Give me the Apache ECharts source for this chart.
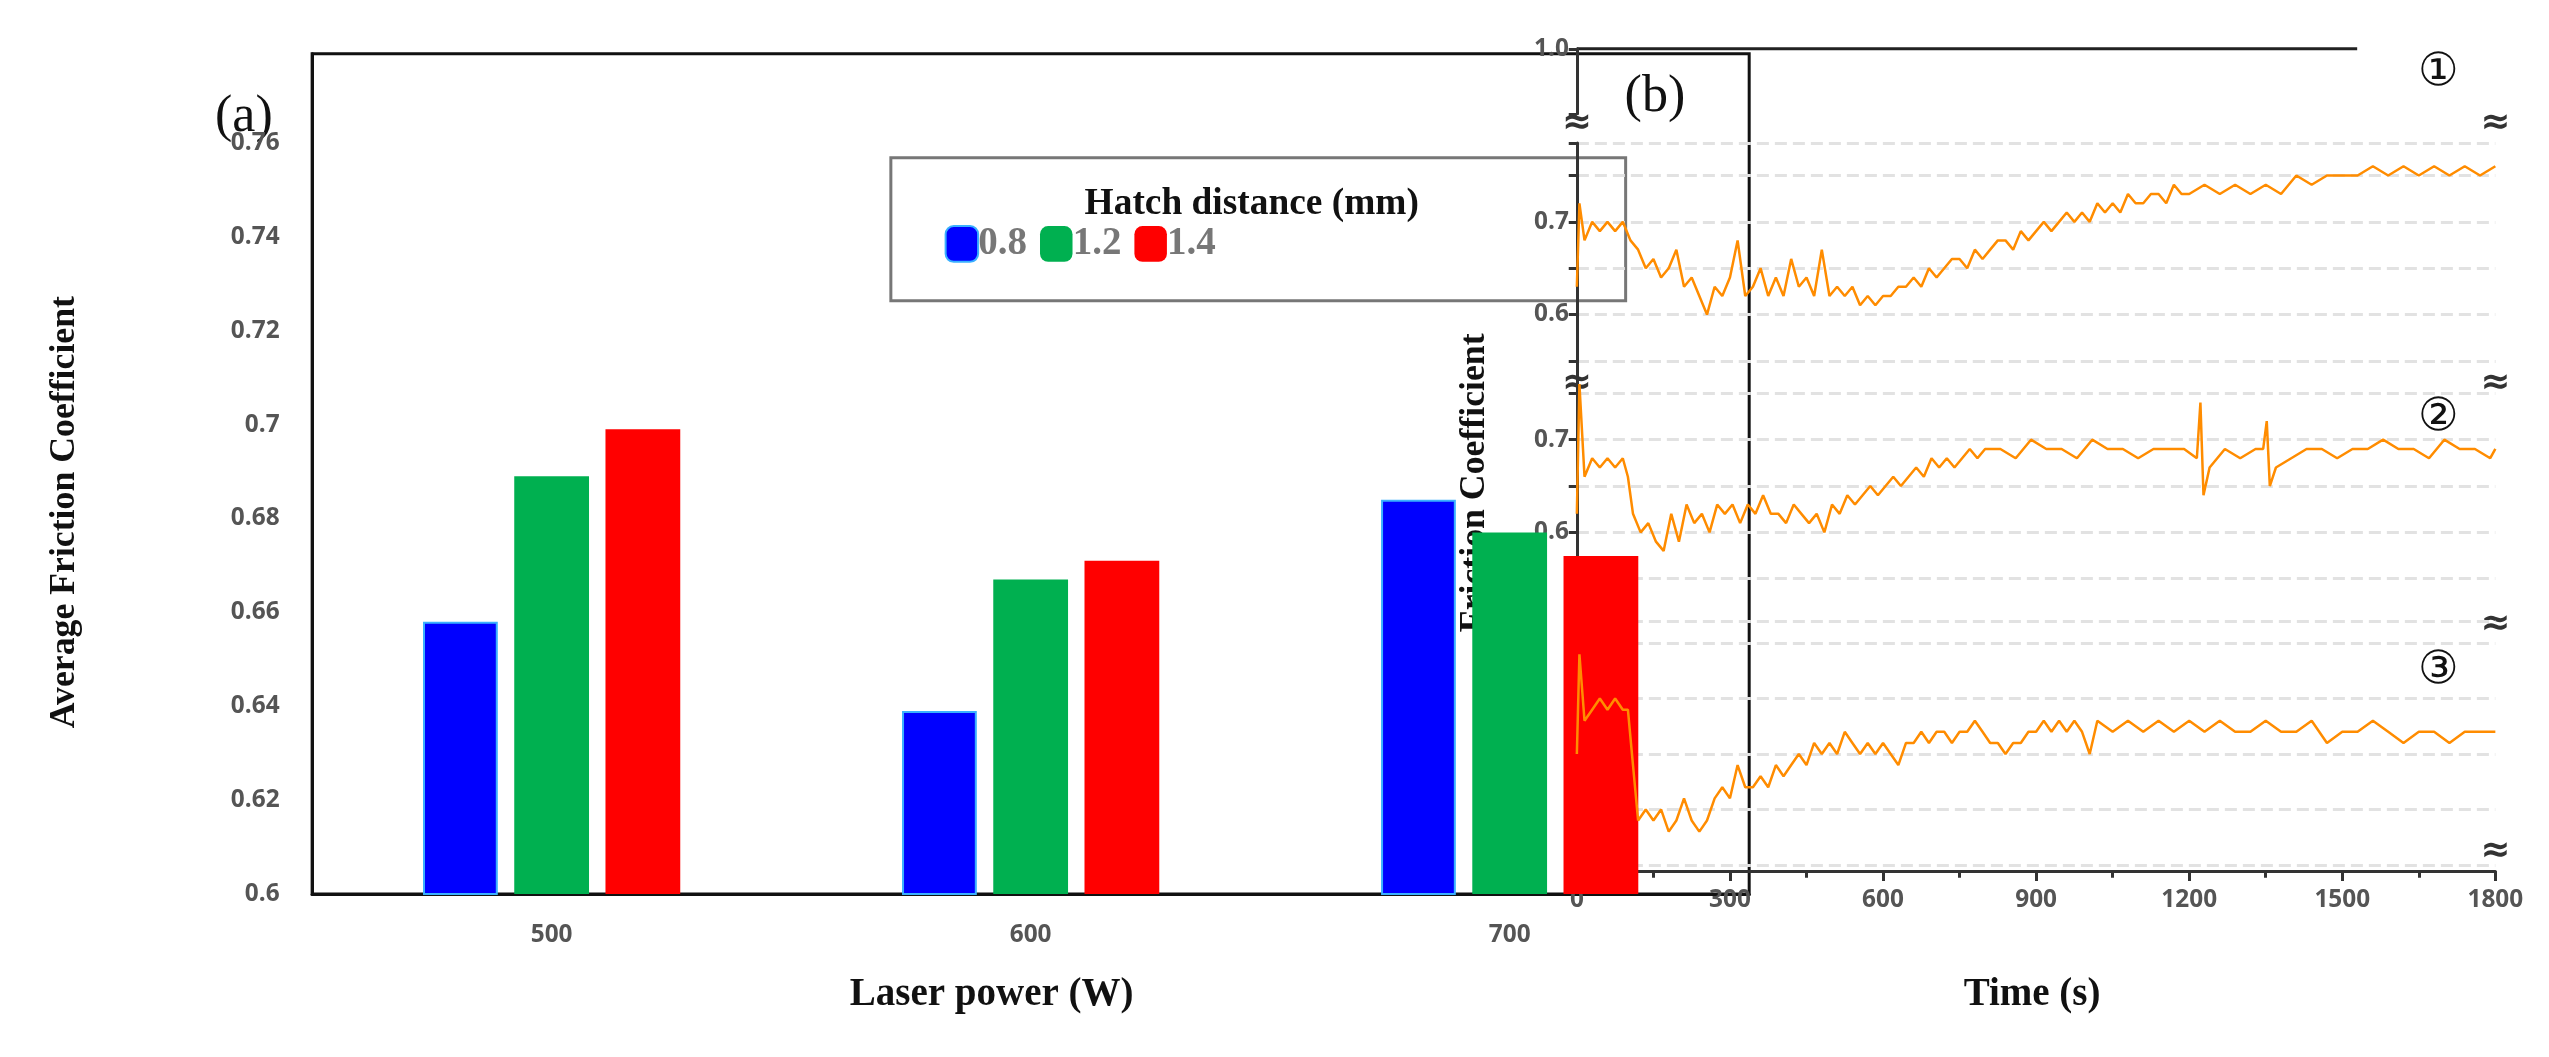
<!DOCTYPE html><html><head><meta charset="utf-8"><script src="https://cdn.jsdelivr.net/npm/echarts@6/dist/echarts.min.js"></script>
<style>html,body{margin:0;background:#fff}#c{width:2549px;height:1057px}</style></head><body><div id="c"></div><script>
const powers=['500','600','700'];
const hatch08=[0.658,0.639,0.684];
const hatch12=[0.689,0.667,0.677];
const hatch14=[0.699,0.671,0.672];
const curve1=[[0,0.63],[5,0.72],[15,0.68],[30,0.70],[45,0.69],[60,0.70],[75,0.69],[90,0.70],[105,0.68],[120,0.67],[135,0.65],[150,0.66],[165,0.64],[180,0.65],[195,0.67],[210,0.63],[225,0.64],[240,0.62],[255,0.60],[270,0.63],[285,0.62],[300,0.64],[315,0.68],[330,0.62],[345,0.63],[360,0.65],[375,0.62],[390,0.64],[405,0.62],[420,0.66],[435,0.63],[450,0.64],[465,0.62],[480,0.67],[495,0.62],[510,0.63],[525,0.62],[540,0.63],[555,0.61],[570,0.62],[585,0.61],[600,0.62],[615,0.62],[630,0.63],[645,0.63],[660,0.64],[675,0.63],[690,0.65],[705,0.64],[720,0.65],[735,0.66],[750,0.66],[765,0.65],[780,0.67],[795,0.66],[810,0.67],[825,0.68],[840,0.68],[855,0.67],[870,0.69],[885,0.68],[900,0.69],[915,0.70],[930,0.69],[945,0.70],[960,0.71],[975,0.70],[990,0.71],[1005,0.70],[1020,0.72],[1035,0.71],[1050,0.72],[1065,0.71],[1080,0.73],[1095,0.72],[1110,0.72],[1125,0.73],[1140,0.73],[1155,0.72],[1170,0.74],[1185,0.73],[1200,0.73],[1230,0.74],[1260,0.73],[1290,0.74],[1320,0.73],[1350,0.74],[1380,0.73],[1410,0.75],[1440,0.74],[1470,0.75],[1500,0.75],[1530,0.75],[1560,0.76],[1590,0.75],[1620,0.76],[1650,0.75],[1680,0.76],[1710,0.75],[1740,0.76],[1770,0.75],[1800,0.76]];
const curve2=[[0,0.62],[5,0.76],[15,0.66],[30,0.68],[45,0.67],[60,0.68],[75,0.67],[90,0.68],[100,0.66],[110,0.62],[125,0.60],[140,0.61],[155,0.59],[170,0.58],[185,0.62],[200,0.59],[215,0.63],[230,0.61],[245,0.62],[260,0.60],[275,0.63],[290,0.62],[305,0.63],[320,0.61],[335,0.63],[350,0.62],[365,0.64],[380,0.62],[395,0.62],[410,0.61],[425,0.63],[440,0.62],[455,0.61],[470,0.62],[485,0.60],[500,0.63],[515,0.62],[530,0.64],[545,0.63],[560,0.64],[575,0.65],[590,0.64],[605,0.65],[620,0.66],[635,0.65],[650,0.66],[665,0.67],[680,0.66],[695,0.68],[710,0.67],[725,0.68],[740,0.67],[755,0.68],[770,0.69],[785,0.68],[800,0.69],[830,0.69],[860,0.68],[890,0.70],[920,0.69],[950,0.69],[980,0.68],[1010,0.70],[1040,0.69],[1070,0.69],[1100,0.68],[1130,0.69],[1160,0.69],[1190,0.69],[1215,0.68],[1222,0.74],[1228,0.64],[1240,0.67],[1270,0.69],[1300,0.68],[1330,0.69],[1345,0.69],[1352,0.72],[1358,0.65],[1370,0.67],[1400,0.68],[1430,0.69],[1460,0.69],[1490,0.68],[1520,0.69],[1550,0.69],[1580,0.70],[1610,0.69],[1640,0.69],[1670,0.68],[1700,0.70],[1730,0.69],[1760,0.69],[1790,0.68],[1800,0.69]];
const curve3=[[0,0.66],[5,0.75],[15,0.69],[30,0.70],[45,0.71],[60,0.70],[75,0.71],[90,0.70],[100,0.70],[110,0.65],[120,0.60],[135,0.61],[150,0.60],[165,0.61],[180,0.59],[195,0.60],[210,0.62],[225,0.60],[240,0.59],[255,0.60],[270,0.62],[285,0.63],[300,0.62],[315,0.65],[330,0.63],[345,0.63],[360,0.64],[375,0.63],[390,0.65],[405,0.64],[420,0.65],[435,0.66],[450,0.65],[465,0.67],[480,0.66],[495,0.67],[510,0.66],[525,0.68],[540,0.67],[555,0.66],[570,0.67],[585,0.66],[600,0.67],[615,0.66],[630,0.65],[645,0.67],[660,0.67],[675,0.68],[690,0.67],[705,0.68],[720,0.68],[735,0.67],[750,0.68],[765,0.68],[780,0.69],[795,0.68],[810,0.67],[825,0.67],[840,0.66],[855,0.67],[870,0.67],[885,0.68],[900,0.68],[915,0.69],[930,0.68],[945,0.69],[960,0.68],[975,0.69],[990,0.68],[1005,0.66],[1020,0.69],[1050,0.68],[1080,0.69],[1110,0.68],[1140,0.69],[1170,0.68],[1200,0.69],[1230,0.68],[1260,0.69],[1290,0.68],[1320,0.68],[1350,0.69],[1380,0.68],[1410,0.68],[1440,0.69],[1470,0.67],[1500,0.68],[1530,0.68],[1560,0.69],[1590,0.68],[1620,0.67],[1650,0.68],[1680,0.68],[1710,0.67],[1740,0.68],[1770,0.68],[1800,0.68]];

const S=2549/1568;
const k=v=>v*S;
const chart=echarts.init(document.getElementById('c'));
const lab={color:'#555',fontWeight:'bold',fontSize:k(15),fontFamily:'Open Sans'};
const L=k(970),RX=k(1535),R=2549-RX;
const panels=[{top:88,h:134,min:0.55,max:0.785},{top:222,h:134,min:0.55,max:0.785},{top:382,h:150,min:0.56,max:0.78}];
const grids=[{left:k(192),right:2549-k(1076),top:k(33),bottom:1057-k(550),show:true,borderColor:'#111',borderWidth:3}];
const xAxes=[{type:'category',data:powers,gridIndex:0,axisLine:{lineStyle:{color:'#111',width:3}},axisTick:{show:false},axisLabel:Object.assign({margin:k(18)},lab)}];
const yAxes=[{type:'value',gridIndex:0,min:0.6,max:0.779,interval:0.02,splitLine:{show:false},axisLine:{show:true,lineStyle:{color:'#111',width:3}},axisTick:{show:false},axisLabel:Object.assign({margin:k(20),showMaxLabel:false,formatter:v=>String(+v.toFixed(2))},lab)}];
grids.push({left:L,right:R,top:k(30),height:k(40)});
xAxes.push({type:'value',gridIndex:1,min:0,max:1800,show:false});
yAxes.push({type:'value',gridIndex:1,min:0.9,max:1.0,interval:0.1,axisLine:{show:true,lineStyle:{color:'#333',width:3}},axisTick:{show:true,length:k(5),lineStyle:{color:'#333',width:3}},splitLine:{show:false},axisLabel:Object.assign({formatter:v=>v>=1?'1.0':''},lab)});
panels.forEach((p,i)=>{
  grids.push({left:L,right:R,top:k(p.top),height:k(p.h)});
  const last=i===2;
  xAxes.push({type:'value',gridIndex:i+2,min:0,max:1800,interval:300,show:last,position:'bottom',offset:last?k(4):0,
    axisLine:{show:last,lineStyle:{color:'#333',width:3}},axisTick:{show:last,length:k(6),lineStyle:{color:'#333',width:3}},
    minorTick:{show:last,splitNumber:2,length:k(4),lineStyle:{color:'#333',width:3}},splitLine:{show:false},axisLabel:Object.assign({margin:k(10),formatter:v=>String(v)},lab)});
  yAxes.push({type:'value',gridIndex:i+2,min:p.min,max:p.max,interval:0.05,
    axisLine:{show:true,lineStyle:{color:'#333',width:3}},axisTick:{show:true,length:k(5),lineStyle:{color:'#333',width:3}},
    splitLine:{show:true,lineStyle:{color:'#e2e2e2',width:3,type:'dashed'}},
    axisLabel:Object.assign({formatter:v=>{const r=Math.round(v*100);return r===60?'0.6':r===70?'0.7':'';}},lab)});
});
const bw=k(46);
const series=[
 {name:'0.8',type:'bar',data:hatch08,barWidth:bw,barGap:'22%',itemStyle:{color:'#0000ff',borderColor:'#3ab0ff',borderWidth:2}},
 {name:'1.2',type:'bar',data:hatch12,barWidth:bw,barGap:'22%',itemStyle:{color:'#00b050'}},
 {name:'1.4',type:'bar',data:hatch14,barWidth:bw,barGap:'22%',itemStyle:{color:'#ff0000'}}
];
[curve1,curve2,curve3].forEach((c,i)=>series.push({type:'line',xAxisIndex:i+2,yAxisIndex:i+2,data:c,showSymbol:false,lineStyle:{color:'#ff8c00',width:2.5},silent:true}));
const brk=[];
[76,236,384,524].forEach(y=>{[L,RX].forEach(x=>brk.push({type:'text',x:x,y:k(y),style:{text:'≈',font:'bold '+k(22)+'px DejaVu Sans',fill:'#333',align:'center',verticalAlign:'middle'}}));});
const T=(t,x,y,f,extra)=>Object.assign({type:'text',x:k(x),y:k(y),style:{text:t,font:f,fill:'#111',align:'center',verticalAlign:'middle'}},extra||{});
chart.setOption({animation:false,
 grid:grids,xAxis:xAxes,yAxis:yAxes,series,
 legend:{left:k(578),top:k(135),itemWidth:k(20),itemHeight:k(22),itemGap:k(8),data:['0.8','1.2','1.4'],itemStyle:{borderRadius:0},textStyle:{fontFamily:'Liberation Serif',fontWeight:'bold',fontSize:k(24),color:'#777',padding:[0,0,0,-k(3)]}},
 graphic:[
  {type:'rect',x:k(548),y:k(97),shape:{width:k(452),height:k(88)},style:{fill:'none',stroke:'#777',lineWidth:3}},
  T('Hatch distance (mm)',770,126,'bold '+k(23)+'px Liberation Serif'),
  T('(a)',150,72,k(32)+'px Liberation Serif'),
  T('(b)',1018,60,k(32)+'px Liberation Serif'),
  T('Average Friction Coefficient',40,315,'bold '+k(22)+'px Liberation Serif',{rotation:Math.PI/2}),
  T('Friction Coefficient',907,297,'bold '+k(22)+'px Liberation Serif',{rotation:Math.PI/2}),
  T('Laser power (W)',610,612,'bold '+k(24)+'px Liberation Serif'),
  T('Time (s)',1250,612,'bold '+k(24)+'px Liberation Serif'),
  T('①',1500,45,k(28)+'px DejaVu Sans'),
  T('②',1500,257,k(28)+'px DejaVu Sans'),
  T('③',1500,413,k(28)+'px DejaVu Sans'),
  {type:'line',shape:{x1:L,y1:k(30),x2:k(1450),y2:k(30)},style:{stroke:'#222',lineWidth:3}}
 ].concat(brk)
});
</script></body></html>
